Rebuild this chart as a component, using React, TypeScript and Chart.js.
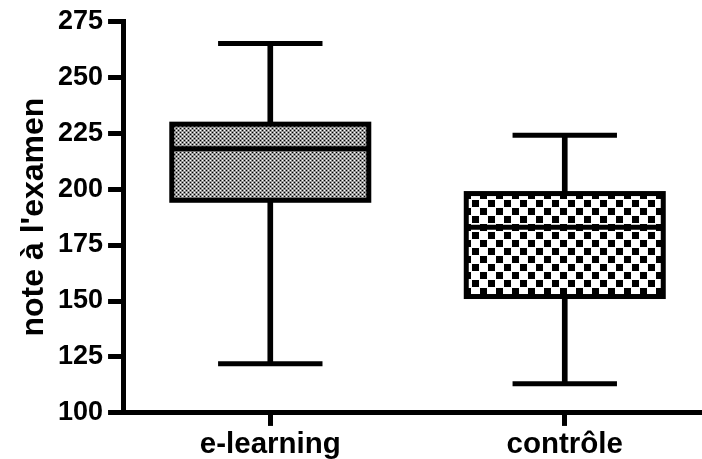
import React, { useEffect, useRef } from 'react';
import { Chart, registerables } from 'chart.js';

Chart.register(...registerables);

// ---- data ----
const categories = ['e-learning', 'contrôle'];
const whiskerMin = [122, 113];
const q1 = [195, 152];
const median = [218, 183];
const q3 = [229, 198];
const whiskerMax = [265, 224];
const yMin = 100;
const yMax = 275;
const yStep = 25;
const yTitle = "note à l'examen";

const FONT = "'Liberation Sans', Arial, Helvetica, sans-serif";

function makeFinePattern(ctx: CanvasRenderingContext2D) {
  const c = document.createElement('canvas');
  c.width = 4;
  c.height = 4;
  const g = c.getContext('2d')!;
  g.fillStyle = '#959595';
  g.fillRect(0, 0, 4, 4);
  g.fillStyle = '#000';
  g.fillRect(0, 0, 1, 1);
  g.fillRect(2, 2, 1, 1);
  g.fillStyle = '#fff';
  g.fillRect(2, 0, 1, 1);
  g.fillRect(0, 2, 1, 1);
  return ctx.createPattern(c, 'repeat');
}

function makeCoarsePattern(ctx: CanvasRenderingContext2D) {
  const c = document.createElement('canvas');
  c.width = 16;
  c.height = 16;
  const g = c.getContext('2d')!;
  g.fillStyle = '#fff';
  g.fillRect(0, 0, 16, 16);
  g.fillStyle = '#000';
  g.fillRect(0, 0, 7, 7);
  g.fillRect(8, 8, 7, 7);
  return ctx.createPattern(c, 'repeat');
}

export default function App() {
  const ref = useRef<HTMLCanvasElement | null>(null);

  useEffect(() => {
    const canvas = ref.current;
    if (!canvas) return;
    const ctx2d = canvas.getContext('2d')!;
    const patterns = [makeFinePattern(ctx2d), makeCoarsePattern(ctx2d)];

    const boxParts = {
      id: 'boxParts',
      afterDatasetsDraw(chart: any) {
        const ctx = chart.ctx;
        const y = chart.scales.y;
        const meta = chart.getDatasetMeta(1);
        ctx.save();
        ctx.strokeStyle = '#000';
        ctx.lineCap = 'butt';
        meta.data.forEach((bar: any, i: number) => {
          const { x, width } = bar.getProps(['x', 'width'], true);
          const top = y.getPixelForValue(q3[i]);
          const bot = y.getPixelForValue(q1[i]);
          ctx.lineWidth = 5;
          ctx.strokeRect(x - width / 2, top, width, bot - top);
          const m = y.getPixelForValue(median[i]);
          ctx.beginPath();
          ctx.moveTo(x - width / 2, m);
          ctx.lineTo(x + width / 2, m);
          ctx.stroke();
          const capHalf = width * 0.265;
          [whiskerMax[i], whiskerMin[i]].forEach((v) => {
            const py = y.getPixelForValue(v);
            ctx.beginPath();
            ctx.moveTo(x - capHalf, py);
            ctx.lineTo(x + capHalf, py);
            ctx.stroke();
          });
        });
        ctx.restore();
      },
    };

    const chart = new Chart(canvas, {
      type: 'bar',
      data: {
        labels: categories,
        datasets: [
          {
            label: 'whiskers',
            data: categories.map((_, i) => [whiskerMin[i], whiskerMax[i]]),
            backgroundColor: '#000',
            borderWidth: 0,
            barThickness: 5,
            grouped: false,
            order: 2,
          } as any,
          {
            label: 'box',
            data: categories.map((_, i) => [q1[i], q3[i]]),
            backgroundColor: patterns as any,
            borderWidth: 0,
            barThickness: 197,
            grouped: false,
            order: 1,
          } as any,
        ],
      },
      options: {
        animation: false,
        responsive: false,
        layout: { padding: { top: 4, right: 0, left: 0, bottom: 0 } },
        plugins: {
          legend: { display: false },
          tooltip: { enabled: false },
        },
        scales: {
          x: {
            type: 'category',
            offset: true,
            grid: {
              display: true,
              drawOnChartArea: false,
              drawTicks: true,
              tickLength: 13,
              tickWidth: 5,
              tickColor: '#000',
              offset: false,
            },
            border: { display: true, width: 5, color: '#000' },
            ticks: {
              color: '#000',
              padding: 6,
              maxRotation: 0,
              font: { family: FONT, size: 29.5, weight: 'bold', lineHeight: 0.85 },
            },
          },
          y: {
            min: yMin,
            max: yMax,
            grid: {
              display: true,
              drawOnChartArea: false,
              drawTicks: true,
              tickLength: 15,
              tickWidth: 5,
              tickColor: '#000',
            },
            border: { display: true, width: 5, color: '#000' },
            ticks: {
              stepSize: yStep,
              color: '#000',
              padding: 5,
              font: { family: FONT, size: 27, weight: 'bold', lineHeight: 1.2 },
            },
            title: {
              display: true,
              text: yTitle,
              color: '#000',
              padding: { top: 18, bottom: 3 },
              font: { family: FONT, size: 32, weight: 'bold', lineHeight: 1 },
            },
          },
        },
      },
      plugins: [boxParts],
    });

    return () => chart.destroy();
  }, []);

  return (
    <div
      style={{
        position: 'fixed',
        left: 0,
        top: 0,
        width: 702,
        height: 459,
        overflow: 'hidden',
        background: '#fff',
      }}
    >
      <canvas ref={ref} width={712} height={463} style={{ display: 'block' }} />
    </div>
  );
}
